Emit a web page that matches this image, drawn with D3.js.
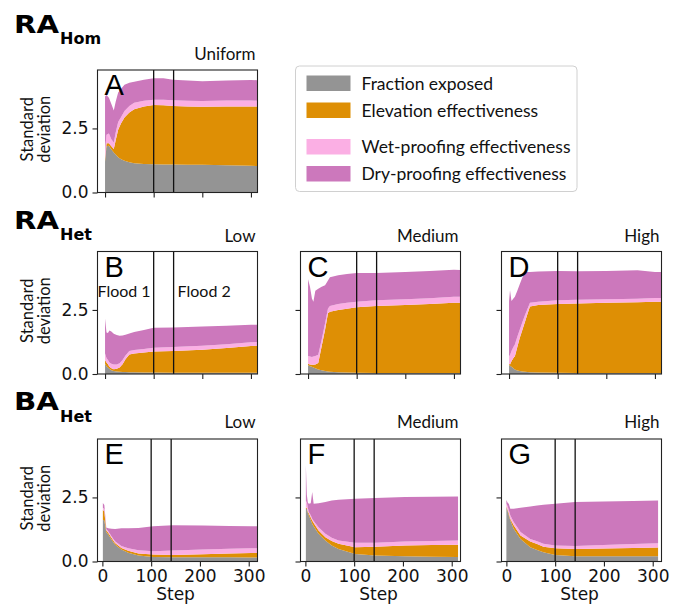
<!DOCTYPE html>
<html><head><meta charset="utf-8">
<script src="https://cdn.jsdelivr.net/npm/d3@7/dist/d3.min.js"></script>
<style>body{margin:0;background:#fff}svg{display:block}</style>
</head><body><svg id="chart" width="685" height="607"></svg>
<script>
const seriesNames = ["Fraction exposed", "Elevation effectiveness", "Wet-proofing effectiveness", "Dry-proofing effectiveness"];
const seriesColors = ["#949494", "#de8f05", "#fbafe4", "#cc78bc"];
const xTicks = [0, 100, 200, 300];
const yTicks = [0, 2.5];
const yTickLabels = ["0.0", "2.5"];
const floodSteps = [100, 141];

// Panel A — RA Hom, Uniform
const stepsA = [0, 3, 8, 13, 18, 22, 27, 33, 40, 50, 60, 80, 100, 120, 140, 170, 200, 250, 300, 313];
const exposedA = [1.20, 1.80, 1.82, 1.68, 1.56, 1.48, 1.38, 1.30, 1.24, 1.18, 1.14, 1.11, 1.10, 1.09, 1.09, 1.08, 1.08, 1.06, 1.04, 1.03];
const elevA = [0.10, 0.12, 0.10, 0.12, 0.14, 0.57, 1.07, 1.40, 1.69, 1.94, 2.11, 2.25, 2.31, 2.31, 2.29, 2.28, 2.27, 2.30, 2.32, 2.33];
const wetA = [0.30, 0.33, 0.38, 0.28, 0.25, 0.30, 0.30, 0.25, 0.25, 0.26, 0.25, 0.22, 0.21, 0.22, 0.22, 0.22, 0.22, 0.23, 0.23, 0.22];
const dryA = [2.15, 1.55, 1.40, 1.37, 1.25, 1.20, 1.15, 1.10, 1.02, 0.90, 0.82, 0.82, 0.84, 0.84, 0.80, 0.79, 0.77, 0.78, 0.80, 0.80];

// Panel B — RA Het, Low
const stepsB = [0, 3, 6, 9, 13, 18, 24, 30, 36, 42, 50, 60, 80, 100, 140, 200, 250, 300, 313];
const exposedB = [0.40, 0.30, 0.25, 0.20, 0.15, 0.12, 0.10, 0.09, 0.08, 0.08, 0.07, 0.07, 0.06, 0.06, 0.05, 0.05, 0.05, 0.05, 0.05];
const elevB = [0.15, 0.15, 0.13, 0.08, 0.07, 0.07, 0.10, 0.16, 0.30, 0.50, 0.69, 0.73, 0.78, 0.82, 0.85, 0.90, 0.96, 1.04, 1.05];
const wetB = [0.25, 0.17, 0.17, 0.17, 0.18, 0.18, 0.17, 0.17, 0.17, 0.14, 0.14, 0.14, 0.14, 0.14, 0.15, 0.15, 0.15, 0.15, 0.15];
const dryB = [1.37, 1.00, 1.05, 1.25, 1.26, 1.20, 1.15, 1.07, 0.95, 0.81, 0.68, 0.70, 0.74, 0.78, 0.76, 0.75, 0.72, 0.68, 0.67];

// Panel C — RA Het, Medium
const stepsC = [0, 4, 8, 11, 15, 21, 28, 35, 41, 45, 62, 80, 100, 140, 200, 250, 300, 313];
const exposedC = [0.35, 0.30, 0.28, 0.25, 0.22, 0.18, 0.15, 0.12, 0.10, 0.09, 0.07, 0.06, 0.05, 0.04, 0.04, 0.04, 0.04, 0.04];
const elevC = [0.05, 0.07, 0.08, 0.11, 0.15, 0.25, 0.93, 1.61, 2.27, 2.34, 2.43, 2.49, 2.55, 2.61, 2.65, 2.69, 2.74, 2.74];
const wetC = [0.30, 0.31, 0.30, 0.32, 0.33, 0.32, 0.26, 0.25, 0.19, 0.22, 0.23, 0.23, 0.22, 0.23, 0.23, 0.23, 0.23, 0.23];
const dryC = [3.00, 2.72, 2.29, 2.14, 2.55, 2.58, 2.06, 1.48, 1.09, 1.13, 1.12, 1.12, 1.12, 1.06, 1.06, 1.06, 1.06, 1.05];

// Panel D — RA Het, High
const stepsD = [0, 2, 5, 9, 12, 17, 22, 27, 33, 38, 43, 60, 100, 140, 200, 264, 300, 313];
const exposedD = [0.35, 0.32, 0.28, 0.22, 0.18, 0.14, 0.12, 0.10, 0.09, 0.08, 0.07, 0.06, 0.05, 0.04, 0.04, 0.04, 0.04, 0.04];
const elevD = [0.05, 0.05, 0.22, 0.40, 0.51, 0.91, 1.28, 1.60, 1.96, 2.27, 2.56, 2.63, 2.68, 2.71, 2.74, 2.76, 2.78, 2.78];
const wetD = [0.30, 0.36, 0.40, 0.43, 0.46, 0.40, 0.33, 0.30, 0.26, 0.20, 0.15, 0.13, 0.15, 0.15, 0.14, 0.14, 0.15, 0.15];
const dryD = [2.15, 2.54, 1.95, 1.90, 1.86, 1.80, 1.77, 1.75, 1.65, 1.43, 1.20, 1.18, 1.14, 1.11, 1.10, 1.11, 1.01, 1.01];

// Panel E — BA Het, Low
const stepsE = [1, 4, 8, 12, 19, 26, 39, 53, 74, 104, 144, 206, 260, 306, 317];
const exposedE = [1.63, 1.60, 1.15, 1.05, 0.85, 0.66, 0.47, 0.34, 0.23, 0.18, 0.17, 0.17, 0.17, 0.16, 0.16];
const elevE = [0.39, 0.35, 0.07, 0.07, 0.07, 0.06, 0.06, 0.08, 0.08, 0.09, 0.08, 0.11, 0.14, 0.17, 0.17];
const wetE = [0.08, 0.10, 0.05, 0.06, 0.06, 0.07, 0.07, 0.10, 0.13, 0.13, 0.18, 0.19, 0.19, 0.19, 0.19];
const dryE = [0.18, 0.15, 0.06, 0.12, 0.30, 0.48, 0.70, 0.78, 0.87, 0.98, 0.98, 0.93, 0.89, 0.86, 0.86];

// Panel F — BA Het, Medium
const stepsF = [1, 3, 5, 7, 11, 14, 17, 27, 41, 54, 68, 102, 143, 204, 260, 313];
const exposedF = [2.06, 2.06, 1.90, 1.80, 1.62, 1.47, 1.38, 1.08, 0.82, 0.62, 0.49, 0.29, 0.23, 0.20, 0.19, 0.18];
const elevF = [0.04, 0.04, 0.05, 0.08, 0.10, 0.13, 0.12, 0.13, 0.13, 0.18, 0.20, 0.27, 0.35, 0.42, 0.45, 0.47];
const wetF = [0.25, 0.22, 0.15, 0.05, 0.08, 0.07, 0.08, 0.13, 0.13, 0.13, 0.13, 0.17, 0.15, 0.16, 0.16, 0.17];
const dryF = [1.41, 0.28, 0.20, 0.32, 0.47, 1.04, 0.67, 0.93, 1.24, 1.45, 1.59, 1.72, 1.75, 1.74, 1.73, 1.72];

// Panel G — BA Het, High
const stepsG = [0, 3, 5, 8, 15, 29, 49, 63, 76, 100, 141, 199, 260, 311];
const exposedG = [2.12, 1.95, 1.80, 1.61, 1.28, 0.88, 0.56, 0.45, 0.36, 0.25, 0.20, 0.20, 0.20, 0.20];
const elevG = [0.03, 0.05, 0.08, 0.06, 0.13, 0.13, 0.22, 0.23, 0.22, 0.27, 0.29, 0.31, 0.33, 0.35];
const wetG = [0.10, 0.15, 0.12, 0.13, 0.13, 0.14, 0.10, 0.11, 0.11, 0.10, 0.11, 0.13, 0.15, 0.16];
const dryG = [0.15, 0.13, 0.25, 0.26, 0.52, 0.95, 1.27, 1.40, 1.52, 1.63, 1.72, 1.70, 1.68, 1.67];

const panels = [
  {letter: "A", row: 0, col: 0, title: "Uniform", steps: stepsA, series: [exposedA, elevA, wetA, dryA]},
  {letter: "B", row: 1, col: 0, title: "Low", steps: stepsB, series: [exposedB, elevB, wetB, dryB], floods: true},
  {letter: "C", row: 1, col: 1, title: "Medium", steps: stepsC, series: [exposedC, elevC, wetC, dryC]},
  {letter: "D", row: 1, col: 2, title: "High", steps: stepsD, series: [exposedD, elevD, wetD, dryD]},
  {letter: "E", row: 2, col: 0, title: "Low", steps: stepsE, series: [exposedE, elevE, wetE, dryE]},
  {letter: "F", row: 2, col: 1, title: "Medium", steps: stepsF, series: [exposedF, elevF, wetF, dryF]},
  {letter: "G", row: 2, col: 2, title: "High", steps: stepsG, series: [exposedG, elevG, wetG, dryG]}
];

const groupLabels = [
  {main: "RA", sub: "Hom", row: 0},
  {main: "RA", sub: "Het", row: 1},
  {main: "BA", sub: "Het", row: 2}
];

// layout
const colLeft = [97.5, 300.5, 501.5];
const rowTop = [70, 251.5, 439];
const PW = 160, PH = 122.5;
const xDomains = [[-15.5, 313.5], [-15.5, 313.5], [-10, 318]];
const yMax = 4.78;
const groupBase = [[33, 43.5], [228.5, 239.5], [410, 422]];
const titleBase = [60, 242, 428];

const svg = d3.select("#chart");
const keys = seriesNames.map((d, i) => "s" + i);

panels.forEach((p, pi) => {
  const x0 = colLeft[p.col], y0 = rowTop[p.row];
  const x = d3.scaleLinear().domain(xDomains[p.row]).range([x0, x0 + PW]);
  const y = d3.scaleLinear().domain([0, yMax]).range([y0 + PH, y0]);
  const g = svg.append("g");
  const clipId = "clip" + pi;
  g.append("clipPath").attr("id", clipId).append("rect")
    .attr("x", x0).attr("y", y0).attr("width", PW).attr("height", PH);

  const rows = p.steps.map((s, i) => {
    const o = {step: s};
    p.series.forEach((arr, k) => o["s" + k] = arr[i]);
    return o;
  });
  const stacked = d3.stack().keys(keys)(rows);
  const area = d3.area().x(d => x(d.data.step)).y0(d => y(d[0])).y1(d => y(d[1]));
  g.append("g").attr("clip-path", `url(#${clipId})`)
    .selectAll("path").data(stacked).join("path")
    .attr("d", area).attr("fill", (d, i) => seriesColors[i]);

  // flood lines
  g.selectAll("line.flood").data(floodSteps).join("line")
    .attr("x1", d => x(d)).attr("x2", d => x(d))
    .attr("y1", y0).attr("y2", y0 + PH)
    .attr("stroke", "#111").attr("stroke-width", 1.3);

  // axes
  const ax = g.append("g").attr("transform", `translate(0,${y0 + PH})`)
    .call(d3.axisBottom(x).tickValues(xTicks).tickSize(5).tickSizeOuter(0)
      .tickFormat(p.row === 2 ? d3.format("d") : () => ""));
  ax.select(".domain").remove();
  ax.selectAll("line").attr("stroke", "#222").attr("stroke-width", 1.1);
  ax.selectAll("text").attr("font-family", "DejaVu Sans").attr("font-size", 17)
    .attr("fill", "#111").attr("dy", "1.0em").attr("y", 3);

  const ay = g.append("g").attr("transform", `translate(${x0},0)`)
    .call(d3.axisLeft(y).tickValues(yTicks).tickSize(5).tickSizeOuter(0)
      .tickFormat(p.col === 0 ? (d, i) => yTickLabels[i] : () => ""));
  ay.select(".domain").remove();
  ay.selectAll("line").attr("stroke", "#222").attr("stroke-width", 1.1);
  ay.selectAll("text").attr("font-family", "DejaVu Sans").attr("font-size", 17)
    .attr("fill", "#111").attr("x", -9);

  // frame
  g.append("rect").attr("x", x0).attr("y", y0).attr("width", PW).attr("height", PH)
    .attr("fill", "none").attr("stroke", "#222").attr("stroke-width", 1.1);

  // panel letter
  g.append("text").attr("x", x0 + 7).attr("y", y0 + 25)
    .attr("font-family", "Liberation Sans, Arial, sans-serif").attr("font-size", 29)
    .attr("fill", "#000").text(p.letter);

  // title
  g.append("text").attr("x", x0 + PW - 2).attr("y", titleBase[p.row])
    .attr("text-anchor", "end").attr("font-family", "Lato").attr("font-size", 17)
    .attr("fill", "#111").text(p.title);

  if (p.floods) {
    g.append("text").attr("x", x(floodSteps[0]) - 3).attr("y", y0 + 45)
      .attr("text-anchor", "end").attr("font-family", "Lato").attr("font-size", 16)
      .attr("fill", "#111").text("Flood 1");
    g.append("text").attr("x", x(floodSteps[1]) + 4).attr("y", y0 + 45)
      .attr("font-family", "Lato").attr("font-size", 16)
      .attr("fill", "#111").text("Flood 2");
  }

  if (p.col === 0) {
    const cy = y0 + PH / 2 - 2;
    const lab = g.append("text").attr("transform", `translate(33,${cy}) rotate(-90)`)
      .attr("text-anchor", "middle").attr("font-family", "Lato").attr("font-size", 16.5).attr("fill", "#111");
    lab.append("tspan").attr("x", 0).attr("y", 0).text("Standard");
    lab.append("tspan").attr("x", 0).attr("y", 17).text("deviation");
  }
  if (p.row === 2) {
    g.append("text").attr("x", x0 + PW / 2 + (x(150) - (x0 + PW / 2))).attr("y", 600)
      .attr("text-anchor", "middle").attr("font-family", "DejaVu Sans").attr("font-size", 17)
      .attr("fill", "#111").text("Step");
  }
});

// group labels
groupLabels.forEach(gl => {
  const b = groupBase[gl.row];
  svg.append("text").attr("x", 14).attr("y", b[0])
    .attr("font-family", "DejaVu Sans").attr("font-weight", "bold").attr("font-size", 25)
    .attr("textLength", 45).attr("lengthAdjust", "spacingAndGlyphs")
    .attr("fill", "#000").text(gl.main);
  svg.append("text").attr("x", 60).attr("y", b[1])
    .attr("font-family", "DejaVu Sans").attr("font-weight", "bold").attr("font-size", 16)
    .attr("fill", "#000").text(gl.sub);
});

// legend
const lg = svg.append("g");
lg.append("rect").attr("x", 295.5).attr("y", 66).attr("width", 281.5).attr("height", 125.5)
  .attr("rx", 4).attr("fill", "#fff").attr("stroke", "#d0d0d0").attr("stroke-width", 1);
const legendY = [75.5, 102.5, 139, 166];
seriesNames.forEach((n, i) => {
  lg.append("rect").attr("x", 306.5).attr("y", legendY[i]).attr("width", 44).attr("height", 15.5)
    .attr("fill", seriesColors[i]);
  lg.append("text").attr("x", 361.5).attr("y", legendY[i] + 14)
    .attr("font-family", "Lato").attr("font-size", 17.5).attr("fill", "#111").text(n);
});
</script></body></html>
